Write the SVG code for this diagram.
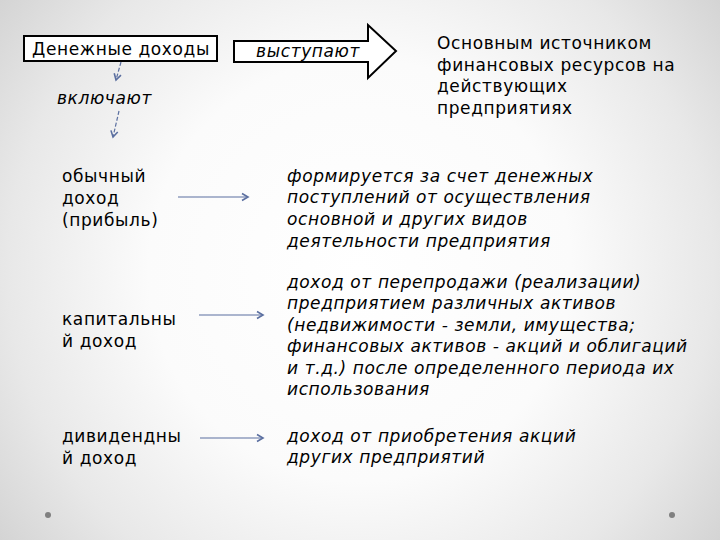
<svg xmlns="http://www.w3.org/2000/svg" width="720" height="540" viewBox="0 0 720 540">
<defs>
<radialGradient id="bg" cx="360" cy="270" r="470" gradientUnits="userSpaceOnUse">
<stop offset="0" stop-color="#ffffff"/>
<stop offset="0.45" stop-color="#fbfbfb"/>
<stop offset="0.75" stop-color="#e8e8e8"/>
<stop offset="1" stop-color="#d0d0d0"/>
</radialGradient>
<marker id="ah" markerWidth="10" markerHeight="10" refX="8" refY="5" orient="auto" markerUnits="userSpaceOnUse">
<path d="M2,1.5 L8,5 L2,8.5" fill="none" stroke="#5b6fa0" stroke-width="1.6"/>
</marker>
</defs>
<style>
text{font-family:"DejaVu Sans","Verdana",sans-serif;font-size:17px;fill:#000;letter-spacing:0.6px}
.it{font-style:italic}
.conn{stroke:#5b6fa0;stroke-width:1.2;fill:none}
.dash{stroke-dasharray:4 2}
</style>
<rect width="720" height="540" fill="url(#bg)"/>

<g id="node-dengi">
<rect x="24" y="36" width="193" height="25" fill="#fff" stroke="#000" stroke-width="2"/>
<text x="121" y="54.5" text-anchor="middle">Денежные доходы</text>
</g>

<g id="node-vystupayut">
<path d="M234,41 L368,41 L368,25 L396,51 L368,78 L368,62 L234,62 Z" fill="#fff" stroke="#000" stroke-width="2"/>
<text class="it" x="308" y="56.5" text-anchor="middle">выступают</text>
</g>

<g id="node-istochnik">
<text x="437" y="49">Основным источником</text>
<text x="437" y="71">финансовых ресурсов на</text>
<text x="437" y="92">действующих</text>
<text x="437" y="114">предприятиях</text>
</g>

<g id="node-vklyuchayut">
<text class="it" x="57" y="104">включают</text>
</g>

<g id="node-obychny">
<text x="62" y="182">обычный</text>
<text x="62" y="204">доход</text>
<text x="62" y="226">(прибыль)</text>
</g>

<g id="node-kapital">
<text x="62" y="325">капитальны</text>
<text x="62" y="347">й доход</text>
</g>

<g id="node-dividend">
<text x="62" y="442">дивидендны</text>
<text x="62" y="464">й доход</text>
</g>

<g id="node-formiruetsya">
<text class="it" x="287" y="182">формируется за счет денежных</text>
<text class="it" x="287" y="203">поступлений от осуществления</text>
<text class="it" x="287" y="225">основной и других видов</text>
<text class="it" x="287" y="247">деятельности предприятия</text>
</g>

<g id="node-pereprodazha">
<text class="it" x="287" y="288">доход от перепродажи (реализации)</text>
<text class="it" x="287" y="309">предприятием различных активов</text>
<text class="it" x="287" y="331">(недвижимости - земли, имущества;</text>
<text class="it" x="287" y="352">финансовых активов - акций и облигаций</text>
<text class="it" x="287" y="374">и т.д.) после определенного периода их</text>
<text class="it" x="287" y="395">использования</text>
</g>

<g id="node-priobretenie">
<text class="it" x="287" y="442">доход от приобретения акций</text>
<text class="it" x="287" y="463">других предприятий</text>
</g>

<g id="connectors">
<line class="conn dash" x1="121" y1="62" x2="116" y2="80" marker-end="url(#ah)"/>
<line class="conn dash" x1="119" y1="111" x2="113" y2="137" marker-end="url(#ah)"/>
<line class="conn" x1="178" y1="197" x2="248" y2="197" marker-end="url(#ah)"/>
<line class="conn" x1="199" y1="315" x2="263" y2="315" marker-end="url(#ah)"/>
<line class="conn" x1="200" y1="438" x2="263" y2="438" marker-end="url(#ah)"/>
</g>

<g id="dots" fill="#808080">
<circle cx="48" cy="515" r="3"/>
<circle cx="672" cy="515" r="3"/>
</g>
</svg>
